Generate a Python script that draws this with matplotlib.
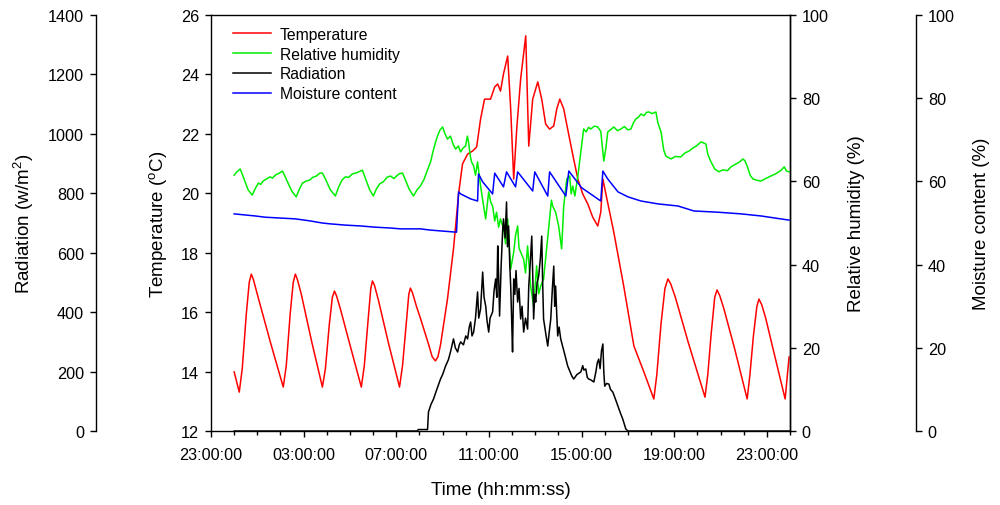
import matplotlib
matplotlib.use("Agg")
import matplotlib.pyplot as plt
from matplotlib.ticker import MultipleLocator

plt.rcParams["font.family"] = ["Liberation Sans", "DejaVu Sans"]
plt.rcParams["mathtext.default"] = "regular"

# Time in hours after midnight (-1 = 23:00 of the previous day).
temp_time = [0.00, 0.22, 0.35, 0.52, 0.65, 0.74, 0.83, 1.00, 1.56, 2.12,
             2.25, 2.42, 2.55, 2.64, 2.73, 2.90, 3.35, 3.81,
             3.94, 4.11, 4.24, 4.33, 4.42, 4.59, 5.00, 5.49,
             5.62, 5.79, 5.90, 5.97, 6.06, 6.23, 6.65, 7.14,
             7.27, 7.44, 7.54, 7.61, 7.70, 7.87, 8.04, 8.39, 8.55, 8.69, 8.80, 8.91,
             9.21, 9.47, 9.69, 9.86, 10.08, 10.29, 10.47, 10.64, 10.81, 11.07, 11.25,
             11.38, 11.50, 11.63, 11.81, 11.94, 12.07, 12.20, 12.37, 12.59, 12.72,
             12.89, 13.11, 13.28, 13.45, 13.62, 13.80, 13.93, 14.06, 14.23, 14.40,
             14.62, 14.84, 15.05, 15.27, 15.48, 15.70, 15.83, 15.92, 16.05, 16.39,
             16.82, 17.26, 17.69, 18.12,
             18.25, 18.43, 18.60, 18.73, 18.85, 19.05, 19.60, 20.33,
             20.45, 20.60, 20.75, 20.85, 20.97, 21.15, 21.60, 22.15,
             22.27, 22.42, 22.57, 22.66, 22.78, 22.95, 23.35, 23.79, 23.96]
temp_vals = [13.99, 13.31, 14.1, 15.9, 17.0, 17.28, 17.1, 16.6, 15.0, 13.48,
             14.2, 15.95, 17.0, 17.28, 17.1, 16.6, 15.0, 13.48,
             14.1, 15.6, 16.5, 16.71, 16.55, 16.1, 14.9, 13.48,
             14.2, 15.8, 16.8, 17.05, 16.9, 16.4, 15.0, 13.48,
             14.2, 15.7, 16.6, 16.81, 16.65, 16.2, 15.8, 14.93, 14.5, 14.36, 14.5, 14.9,
             16.44, 18.13, 19.98, 20.99, 21.32, 21.42, 21.56, 22.50, 23.17, 23.17, 23.58,
             23.68, 23.44, 24.02, 24.62, 22.84, 20.48, 22.16, 23.85, 25.30, 21.59,
             23.17, 23.75, 23.17, 22.33, 22.16, 22.27, 22.84, 23.17, 22.84, 22.16,
             21.3, 20.48, 19.98, 19.64, 19.20, 18.90, 19.37, 20.48, 19.98, 18.70,
             16.88, 14.86, 13.99, 13.08,
             13.9, 15.6, 16.8, 17.12, 16.95, 16.5, 15.0, 13.14,
             13.9, 15.3, 16.5, 16.75, 16.55, 16.1, 14.8, 13.08,
             13.9, 15.2, 16.2, 16.44, 16.25, 15.8, 14.5, 13.08, 14.49]

rh_time = [0.00, 0.10, 0.26, 0.40, 0.60, 0.78, 0.92, 1.05, 1.15, 1.25, 1.40, 1.55,
           1.65, 1.80, 1.95, 2.08, 2.20, 2.35, 2.50, 2.68, 2.82, 2.95, 3.11, 3.25,
           3.40, 3.55, 3.70, 3.81, 3.95, 4.15, 4.37, 4.50, 4.65, 4.80, 4.95, 5.10,
           5.30, 5.45, 5.54, 5.65, 5.85, 6.01, 6.15, 6.30, 6.44, 6.60, 6.75, 6.90,
           7.05, 7.15, 7.27, 7.40, 7.55, 7.74, 7.90, 8.04, 8.20, 8.35, 8.48, 8.60,
           8.70, 8.78, 8.88, 9.00, 9.10, 9.21, 9.34, 9.45, 9.56, 9.68, 9.78, 9.88,
           9.99, 10.07, 10.12, 10.20, 10.25, 10.34, 10.42, 10.51, 10.64, 10.77, 10.86,
           10.99, 11.08, 11.16, 11.25, 11.33, 11.42, 11.50, 11.63, 11.72, 11.81, 11.94,
           12.07, 12.15, 12.24, 12.30, 12.37, 12.50, 12.58, 12.67, 12.80, 12.93, 13.06,
           13.15, 13.24, 13.36, 13.49, 13.56, 13.62, 13.70, 13.75, 13.88, 14.01, 14.14,
           14.23, 14.36, 14.49, 14.55, 14.62, 14.71, 14.84, 14.97, 15.09, 15.20, 15.30,
           15.40, 15.55, 15.70, 15.83, 15.96, 16.05, 16.13, 16.25, 16.39, 16.55, 16.70,
           16.85, 17.00, 17.13, 17.25, 17.34, 17.45, 17.56, 17.70, 17.80, 17.91, 18.05,
           18.21, 18.30, 18.43, 18.55, 18.64, 18.86, 19.05, 19.29, 19.45, 19.64, 19.80,
           19.95, 20.16, 20.37, 20.45, 20.59, 20.75, 20.93, 21.10, 21.30, 21.45, 21.60,
           21.80, 21.97, 22.05, 22.15, 22.28, 22.40, 22.55, 22.75, 22.95, 23.18, 23.40,
           23.60, 23.75, 23.85, 23.96]
rh_vals = [61.5, 62.2, 63.0, 61.0, 58.0, 56.7, 58.4, 59.6, 59.3, 60.1, 60.6, 61.1,
           60.8, 61.6, 62.0, 62.5, 61.2, 59.3, 57.6, 56.3, 58.2, 59.6, 60.1, 60.3,
           61.0, 61.3, 62.0, 62.0, 60.5, 58.0, 56.5, 58.5, 60.3, 61.1, 61.0, 61.8,
           62.1, 62.5, 62.7, 61.0, 58.0, 56.5, 58.3, 59.5, 59.9, 61.0, 61.3, 60.7,
           61.5, 61.9, 62.0, 60.3, 58.2, 56.5, 58.0, 58.9, 60.5, 62.8, 64.7, 67.5,
           69.5, 70.9, 72.3, 73.1, 71.5, 70.2, 70.9, 69.0, 67.8, 68.5, 67.1, 68.0,
           68.5, 70.9, 69.5, 66.0, 64.7, 63.7, 61.5, 64.7, 58.9, 54.1, 51.0,
           57.5, 55.0, 54.1, 50.5, 52.6, 49.0, 51.0, 48.6, 45.0, 51.0, 38.9,
           43.0, 47.0, 49.3, 44.0, 43.0, 41.3, 38.0, 44.5, 34.9, 30.0, 39.7,
           33.0, 34.9, 36.5, 43.8, 48.0, 51.0, 55.5, 54.1, 52.6, 49.3, 43.8,
           54.1, 60.6, 61.3, 57.0, 58.9, 56.5, 61.3, 67.1, 72.6, 71.9, 73.0,
           72.6, 73.3, 73.1, 72.0, 64.9, 68.0, 71.9, 72.4, 73.1, 72.2, 72.6,
           73.2, 72.4, 72.6, 74.2, 75.0, 75.4, 76.2, 75.8, 76.6, 76.7, 76.3,
           76.7, 74.0, 71.9, 67.5, 66.1, 65.4, 66.0, 65.9, 66.8, 67.3, 68.0,
           68.5, 69.5, 69.0, 66.5, 64.7, 63.0, 62.3, 62.8, 62.6, 63.5, 64.0,
           64.6, 65.4, 65.0, 63.7, 61.5, 60.6, 60.3, 60.1, 60.7, 61.3, 61.9,
           62.6, 63.5, 62.5, 62.3]

rad_time = [0.0, 7.90, 7.95, 8.35, 8.39, 8.50, 8.61, 8.75, 8.91, 9.00, 9.13, 9.25,
            9.34, 9.47, 9.55, 9.65, 9.72, 9.78, 9.90, 10.00, 10.08, 10.15, 10.21, 10.27,
            10.34, 10.42, 10.51, 10.56, 10.64, 10.73, 10.79, 10.86, 10.92, 10.99, 11.05,
            11.16, 11.22, 11.29, 11.34, 11.38, 11.42, 11.46, 11.53, 11.59, 11.63, 11.70,
            11.76, 11.80, 11.85, 11.90, 11.94, 11.98, 12.02, 12.07, 12.12, 12.17, 12.24,
            12.30, 12.37, 12.43, 12.50, 12.58, 12.67, 12.72, 12.78, 12.85, 12.90, 12.93,
            12.98, 13.02, 13.08, 13.15, 13.22, 13.28, 13.32, 13.36, 13.45, 13.54, 13.60,
            13.67, 13.74, 13.80, 13.84, 13.88, 13.93, 13.97, 14.03, 14.10, 14.20, 14.30,
            14.40, 14.50, 14.58, 14.66, 14.80, 14.97, 15.05, 15.10, 15.18, 15.25, 15.31,
            15.40, 15.53, 15.62, 15.68, 15.74, 15.80, 15.86, 15.92, 15.96, 16.00, 16.08,
            16.18, 16.25, 16.35, 16.45, 16.57, 16.68, 16.78, 16.91, 17.00, 24.0]
rad_vals = [0, 0, 5, 5, 64, 90, 108, 140, 175, 190, 219, 240,
            266, 310, 280, 266, 290, 300, 290, 320, 310, 350, 367, 320,
            333, 380, 468, 380, 411, 535, 450, 421, 370, 333, 380,
            401, 470, 512, 450, 623, 520, 387, 560, 670, 714, 650,
            771, 620, 690, 560, 488, 380, 266, 512, 460, 540, 434,
            480, 377, 420, 333, 380, 343, 488, 560, 656, 500, 377,
            460, 434, 500, 522, 580, 656, 500, 377, 330, 286, 330,
            377, 480, 555, 420, 488, 390, 320, 350, 310, 280, 250,
            219, 200, 185, 175, 190, 199, 220, 205, 209, 180, 175,
            172, 165, 200, 230, 242, 210, 270, 293, 200, 151, 160,
            158, 140, 131, 110, 84, 60, 40, 7, 0, 0]

mc_time = [0.00, 0.91, 1.34, 1.99, 2.64, 3.29, 3.81, 4.15, 4.80, 5.45, 6.10, 6.75,
           7.18, 8.04, 8.48, 9.60, 9.69, 9.78, 10.21, 10.51, 10.55, 10.73, 11.16,
           11.25, 11.63, 11.76, 12.15, 12.24, 12.89, 12.98, 13.54, 13.62, 14.32,
           14.45, 15.00, 15.83, 15.92, 16.13, 16.57, 17.00, 17.56, 18.30, 19.16,
           19.85, 20.89, 21.89, 22.75, 23.96]
mc_vals = [52.2, 51.7, 51.4, 51.2, 51.0, 50.5, 50.0, 49.8, 49.5, 49.3, 49.0, 48.8,
           48.6, 48.6, 48.3, 47.8, 57.5, 57.0, 55.8, 55.3, 61.8, 59.9, 57.0,
           62.0, 58.7, 62.3, 58.7, 62.3, 57.7, 62.3, 56.5, 62.3, 56.5,
           62.5, 58.5, 55.3, 62.5, 60.6, 57.5, 56.3, 55.3, 54.6, 54.1,
           52.9, 52.6, 52.2, 51.7, 50.7]

tick_hours = [-1, 3, 7, 11, 15, 19, 23]
tick_labels = ["23:00:00", "03:00:00", "07:00:00", "11:00:00",
               "15:00:00", "19:00:00", "23:00:00"]

fig = plt.figure(figsize=(10, 5.06), dpi=100)
ax = fig.add_axes([0.211, 0.1462, 0.579, 0.8221])
ax_rh = ax.twinx()
ax_rad = ax.twinx()
ax_mc = ax.twinx()

# Draw the four series on their own scales.
l_t, = ax.plot(temp_time, temp_vals, color="#ff0000", lw=1.1, label="Temperature")
l_rh, = ax_rh.plot(rh_time, rh_vals, color="#00ee00", lw=1.1, label="Relative humidity")
l_rad, = ax_rad.plot(rad_time, rad_vals, color="black", lw=1.1, label="Radiation")
l_mc, = ax_mc.plot(mc_time, mc_vals, color="#0000ff", lw=1.1, label="Moisture content")

ax.set_xlim(-1, 24)
ax.set_ylim(12, 26)
ax_rh.set_ylim(0, 100)
ax_rad.set_ylim(0, 1400)
ax_mc.set_ylim(0, 100)

ax.set_xticks(tick_hours)
ax.set_xticklabels(tick_labels)
ax.xaxis.set_minor_locator(MultipleLocator(1))
ax.yaxis.set_major_locator(MultipleLocator(2))
ax_rh.yaxis.set_major_locator(MultipleLocator(20))
ax_mc.yaxis.set_major_locator(MultipleLocator(20))
ax_rad.yaxis.set_major_locator(MultipleLocator(200))

# Radiation spine far left, moisture spine far right.
ax_rad.yaxis.set_ticks_position("left")
ax_rad.yaxis.set_label_position("left")
ax_rad.spines["left"].set_position(("axes", -0.1986))
ax_rad.spines["left"].set_visible(True)
for s in ["right", "top", "bottom"]:
    ax_rad.spines[s].set_visible(False)
ax_mc.spines["right"].set_position(("axes", 1.2176))
for s in ["left", "top", "bottom"]:
    ax_mc.spines[s].set_visible(False)
    ax_rh.spines[s].set_visible(False)

for a in [ax, ax_rh, ax_rad, ax_mc]:
    a.tick_params(axis="both", which="major", labelsize=11.7, length=4.5, width=1, pad=4)
    for sp in a.spines.values():
        sp.set_linewidth(1)
ax.tick_params(axis="x", which="minor", length=3, width=1)
ax.tick_params(axis="x", which="major", pad=7)

ax.set_xlabel("Time (hh:mm:ss)", fontsize=13.5, labelpad=14)
ax.set_ylabel("Temperature ($^{o}$C)", fontsize=13.5)
ax_rh.set_ylabel("Relative humidity (%)", fontsize=13.5)
ax_rad.set_ylabel("Radiation (w/m$^{2}$)", fontsize=13.5)
ax_mc.set_ylabel("Moisture content (%)", fontsize=13.5)
ax.yaxis.set_label_coords(-0.073, 0.5)
ax_rad.yaxis.set_label_coords(-0.302, 0.5)
ax_rh.yaxis.set_label_coords(1.100, 0.5)
ax_mc.yaxis.set_label_coords(1.316, 0.5)

ax_mc.legend([l_t, l_rh, l_rad, l_mc],
             ["Temperature", "Relative humidity", "Radiation", "Moisture content"],
             loc="upper left", bbox_to_anchor=(0.233, 0.9447),
             bbox_transform=fig.transFigure, frameon=False, fontsize=11.3,
             handlelength=2.4, handletextpad=0.6, labelspacing=0.3,
             borderpad=0, borderaxespad=0)

fig.savefig("out.png", dpi=100)
